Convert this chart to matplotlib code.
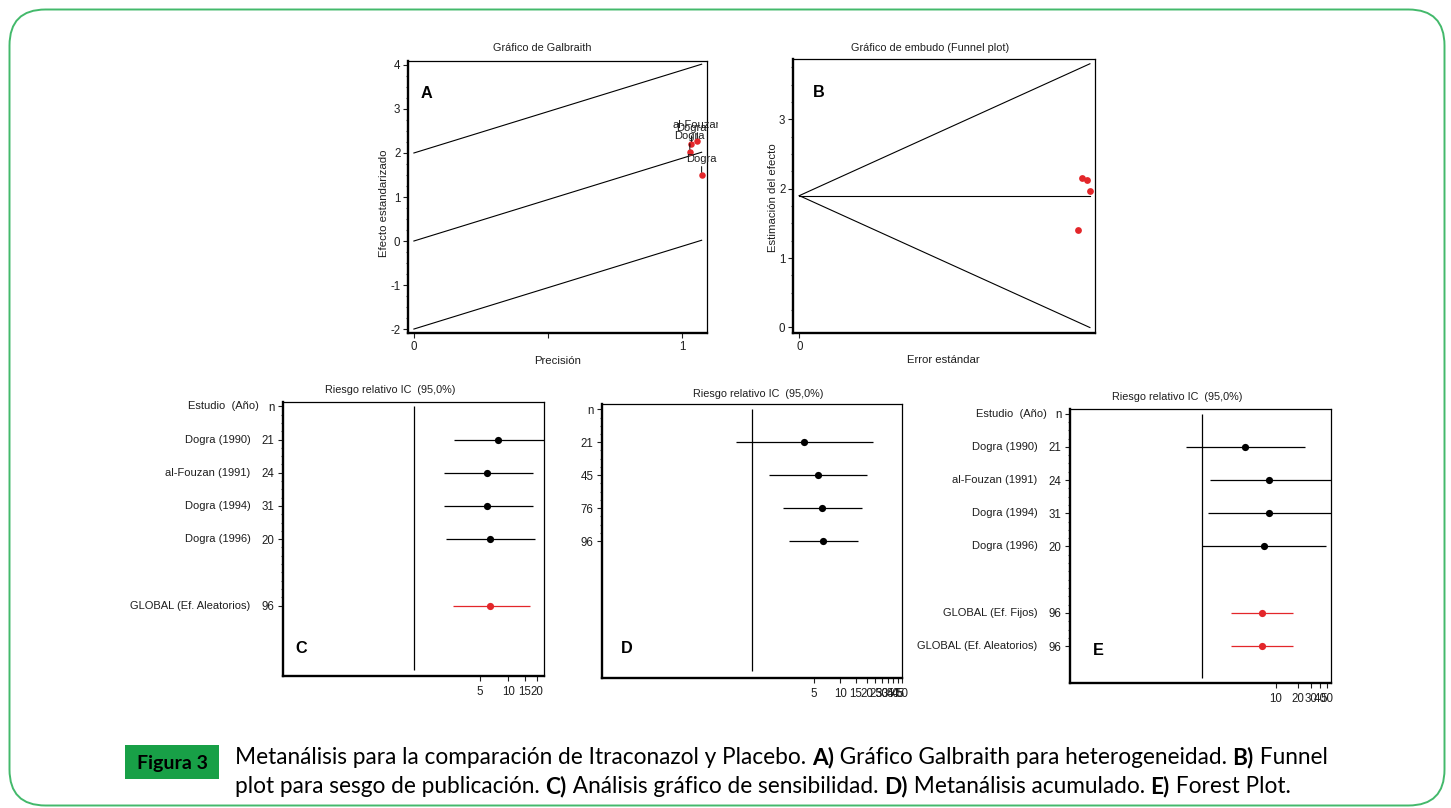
import matplotlib
matplotlib.use('Agg')
import matplotlib.pyplot as plt
import matplotlib.transforms as mtransforms
from matplotlib.patches import FancyBboxPatch, Rectangle
from matplotlib.ticker import FixedLocator, NullLocator
import numpy as np

plt.rcParams['font.family'] = ['Liberation Sans', 'DejaVu Sans']
plt.rcParams['axes.unicode_minus'] = False

W, H = 1451, 808
DPI = 100

# ---------------- data ----------------
studies = ['Dogra (1990)', 'al-Fouzan (1991)', 'Dogra (1994)', 'Dogra (1996)']
short_names = ['Dogra', 'al-Fouzan', 'Dogra', 'Dogra']
n_study = [21, 24, 31, 20]
n_total = 96

galbraith_precision = [1.073, 1.057, 1.035, 1.029]
galbraith_z = [1.50, 2.27, 2.20, 2.02]
galbraith_slope = 1.88

funnel_se = [0.931, 0.943, 0.961, 0.970]
funnel_est = [1.40, 2.157, 2.13, 1.97]
funnel_pooled = 1.90

sens_rr = [7.8, 5.98, 5.98, 6.44]
sens_lo = [2.64, 2.04, 2.09, 2.17]
sens_hi = [30.0, 18.2, 18.2, 19.1]
sens_global = [6.44, 2.60, 16.9]

cum_n = [21, 45, 76, 96]
cum_rr = [3.83, 5.56, 6.18, 6.34]
cum_lo = [0.652, 1.55, 2.23, 2.58]
cum_hi = [23.5, 20.0, 17.8, 16.0]

forest_rr = [3.88, 8.2, 8.0, 6.95]
forest_lo = [0.62, 1.29, 1.20, 1.00]
forest_hi = [25.1, 70.0, 70.0, 47.4]
global_fixed = [6.47, 2.49, 17.0]
global_random = [6.47, 2.49, 17.0]

C_ticks = [5, 10, 15, 20]
D_ticks = [5, 10, 15, 20, 25, 30, 35, 40, 45, 50]
E_ticks = [10, 20, 30, 40, 50]

RED = '#e3262a'
TXT = '#1e1e1e'

fig = plt.figure(figsize=(W / DPI, H / DPI), dpi=DPI)
fig.patch.set_facecolor('white')


def add_ax(x0, y0, x1, y1):
    return fig.add_axes([x0 / W, 1 - y1 / H, (x1 - x0) / W, (y1 - y0) / H])


def ftext(x, y, s, **kw):
    kw.setdefault('color', TXT)
    return fig.text(x / W, 1 - y / H, s, **kw)


def style(ax):
    for s in ['left', 'bottom']:
        ax.spines[s].set_linewidth(1.7)
    for s in ['top', 'right']:
        ax.spines[s].set_linewidth(0.9)
    ax.tick_params(which='major', length=3.5, width=0.8, labelsize=8.3, colors=TXT, pad=2)
    ax.tick_params(which='minor', length=1.8, width=0.8, colors='#555555')


# ---------------- Panel A: Galbraith ----------------
axA = add_ax(408, 61, 707, 333)
style(axA)
xg = np.array([0, max(galbraith_precision)])
for off in (2, 0, -2):
    axA.plot(xg, galbraith_slope * xg + off, color='black', lw=0.8)
axA.scatter(galbraith_precision, galbraith_z, color=RED, s=22, zorder=3, linewidths=0)
clip_bb = mtransforms.Bbox([[0, 0], [718, H]])
for p, z, nm in zip(galbraith_precision, galbraith_z, short_names):
    ann = axA.annotate(nm, xy=(p, z), xytext=(0, 9.5), textcoords='offset points',
                       ha='center', va='baseline', fontsize=8, color=TXT,
                       annotation_clip=False,
                       arrowprops=dict(arrowstyle='-', color='black', lw=0.7,
                                       shrinkA=0, shrinkB=2))
    ann.set_clip_path(None)
    ann.set_clip_box(clip_bb)
    ann.set_clip_on(True)
axA.set_xlim(-0.022, 1.093)
axA.set_ylim(-2.09, 4.09)
axA.set_yticks(range(-2, 5))
axA.yaxis.set_minor_locator(FixedLocator(np.arange(-2, 4.01, 0.25)))
axA.set_xticks([0, 0.5, 1])
axA.set_xticklabels(['0', '', '1'])
ftext(542, 48, 'Gráfico de Galbraith', ha='center', va='center', fontsize=7.8)
ftext(558, 361, 'Precisión', ha='center', va='center', fontsize=8.2)
ftext(384, 203, 'Efecto estandarizado', ha='center', va='center', fontsize=8.2, rotation=90)
ftext(421, 98.3, 'A', ha='left', va='baseline', fontsize=11.7, fontweight='bold', color='black')

# ---------------- Panel B: Funnel ----------------
axB = add_ax(793, 59, 1095, 333)
style(axB)
se_max = max(funnel_se)
axB.plot([0, se_max], [funnel_pooled, funnel_pooled + 1.96 * se_max], color='black', lw=0.8)
axB.plot([0, se_max], [funnel_pooled, funnel_pooled - 1.96 * se_max], color='black', lw=0.8)
axB.plot([0, se_max], [funnel_pooled, funnel_pooled], color='black', lw=0.8)
axB.scatter(funnel_se, funnel_est, color=RED, s=24, zorder=3, linewidths=0)
axB.set_xlim(-0.021, 0.987)
axB.set_ylim(-0.08, 3.87)
axB.set_yticks([0, 1, 2, 3])
axB.yaxis.set_minor_locator(FixedLocator(np.arange(0, 3.81, 0.25)))
axB.set_xticks([0])
ftext(930, 48, 'Gráfico de embudo (Funnel plot)', ha='center', va='center', fontsize=7.8)
ftext(943, 360, 'Error estándar', ha='center', va='center', fontsize=8.2)
ftext(773, 198, 'Estimación del efecto', ha='center', va='center', fontsize=8.2, rotation=90)
ftext(813, 96.7, 'B', ha='left', va='baseline', fontsize=11.7, fontweight='bold', color='black')


# ---------------- forest helper ----------------
def forest(ax, ypos, rr, lo, hi, colors, xl, yl, ticks, ylabels):
    style(ax)
    ax.set_xscale('log')
    for y, r, l, h, c in zip(ypos, rr, lo, hi, colors):
        ax.plot([l, h], [y, y], color=c, lw=0.9, solid_capstyle='butt')
        ax.plot([r], [y], 'o', color=c, ms=5.2, mec=c, mew=0)
    ax.vlines(1, 0, 7.95, color='black', lw=0.9)
    ax.set_xlim(*xl)
    ax.set_ylim(*yl)
    ax.xaxis.set_major_locator(FixedLocator(ticks))
    ax.set_xticklabels([str(t) for t in ticks])
    ax.xaxis.set_minor_locator(NullLocator())
    yt = [0] + list(ypos)
    ax.yaxis.set_major_locator(FixedLocator(yt))
    ax.set_yticklabels(ylabels)
    ax.yaxis.set_minor_locator(FixedLocator(np.arange(0, max(yt) + 0.01, 0.25)))
    ax.tick_params(axis='x', pad=3.5)
    ax.tick_params(axis='y', pad=2.5)


def row_text(ax, xpix, y, s, **kw):
    tr = mtransforms.blended_transform_factory(fig.transFigure, ax.transData)
    kw.setdefault('color', TXT)
    ax.text(xpix / W, y, s, transform=tr, ha='right', va='center', fontsize=8,
            clip_on=False, **kw)


TITLE = 'Riesgo relativo IC  (95,0%)'

# ---------------- Panel C: sensitivity ----------------
axC = add_ax(283, 402, 544, 676)
yC = [1, 2, 3, 4, 6]
forest(axC, yC, sens_rr + [sens_global[0]], sens_lo + [sens_global[1]],
       sens_hi + [sens_global[2]], ['black'] * 4 + [RED],
       (10 ** -1.4, 10 ** 1.38), (8.12, -0.13), C_ticks,
       ['n'] + [str(v) for v in n_study] + [str(n_total)])
row_text(axC, 259.3, 0, 'Estudio  (Año)')
for y, s in zip([1, 2, 3, 4], studies):
    row_text(axC, 250.7, y, s)
row_text(axC, 250.7, 6, 'GLOBAL (Ef. Aleatorios)')
ftext(390, 389.5, TITLE, ha='center', va='center', fontsize=7.8)
ftext(295, 653.3, 'C', ha='left', va='baseline', fontsize=11.7, fontweight='bold', color='black')

# ---------------- Panel D: cumulative ----------------
axD = add_ax(602, 404, 902, 678)
yD = [1, 2, 3, 4]
forest(axD, yD, cum_rr, cum_lo, cum_hi, ['black'] * 4,
       (10 ** -1.709, 10 ** 1.70), (8.15, -0.16), D_ticks,
       ['n'] + [str(v) for v in cum_n])
ftext(758, 394, TITLE, ha='center', va='center', fontsize=7.8)
ftext(621, 653, 'D', ha='left', va='baseline', fontsize=11.7, fontweight='bold', color='black')

# ---------------- Panel E: forest ----------------
axE = add_ax(1070, 409, 1331, 683)
yE = [1, 2, 3, 4, 6, 7]
forest(axE, yE, forest_rr + [global_fixed[0], global_random[0]],
       forest_lo + [global_fixed[1], global_random[1]],
       forest_hi + [global_fixed[2], global_random[2]],
       ['black'] * 4 + [RED, RED],
       (10 ** -1.78, 10 ** 1.747), (8.11, -0.14), E_ticks,
       ['n'] + [str(v) for v in n_study] + [str(n_total), str(n_total)])
row_text(axE, 1046.7, 0, 'Estudio  (Año)')
for y, s in zip([1, 2, 3, 4], studies):
    row_text(axE, 1037.7, y, s)
row_text(axE, 1037.7, 6, 'GLOBAL (Ef. Fijos)')
row_text(axE, 1037.7, 7, 'GLOBAL (Ef. Aleatorios)')
ftext(1177, 397, TITLE, ha='center', va='center', fontsize=7.8)
ftext(1093, 655, 'E', ha='left', va='baseline', fontsize=11.7, fontweight='bold', color='black')

# ---------------- frame ----------------
ident = mtransforms.IdentityTransform()
frame = FancyBboxPatch((9.5, 2.5), 1435, 796, boxstyle='round,pad=0,rounding_size=36',
                       transform=ident, facecolor='none', edgecolor='#43b96b', lw=1.4)
fig.add_artist(frame)

# ---------------- caption ----------------
box = Rectangle((125, H - 779), 94, 34, transform=ident, facecolor='#18a047',
                edgecolor='none')
fig.add_artist(box)
CAP_FONT = ['Lato', 'DejaVu Sans']
ftext(172, 763, 'Figura 3', ha='center', va='center', fontsize=14, fontweight='bold',
      family=CAP_FONT, color='black')

line1 = [("Metanálisis para la comparación de Itraconazol y Placebo. ", 'normal'),
         ("A)", 'bold'), (" Gráfico Galbraith para heterogeneidad. ", 'normal'),
         ("B)", 'bold'), (" Funnel", 'normal')]
line2 = [("plot para sesgo de publicación. ", 'normal'), ("C)", 'bold'),
         (" Análisis gráfico de sensibilidad. ", 'normal'), ("D)", 'bold'),
         (" Metanálisis acumulado. ", 'normal'), ("E)", 'bold'), (" Forest Plot.", 'normal')]

renderer = fig.canvas.get_renderer()


def piece_width(s, weight, size):
    t1 = fig.text(0, 0, s + '|', fontsize=size, fontweight=weight, family=CAP_FONT)
    t2 = fig.text(0, 0, '|', fontsize=size, fontweight=weight, family=CAP_FONT)
    w = t1.get_window_extent(renderer).width - t2.get_window_extent(renderer).width
    t1.remove()
    t2.remove()
    return w


base = 16.0
w1 = sum(piece_width(s, wt, base) for s, wt in line1)
cap_size = base * (1328 - 235) / w1


def draw_line(pieces, y):
    x = 235.0
    for s, wt in pieces:
        ftext(x, y, s, ha='left', va='baseline', fontsize=cap_size, fontweight=wt,
              family=CAP_FONT, color='black')
        x += piece_width(s, wt, cap_size)


draw_line(line1, 764.5)
draw_line(line2, 793)

fig.savefig('out.png', dpi=DPI, facecolor='white')
